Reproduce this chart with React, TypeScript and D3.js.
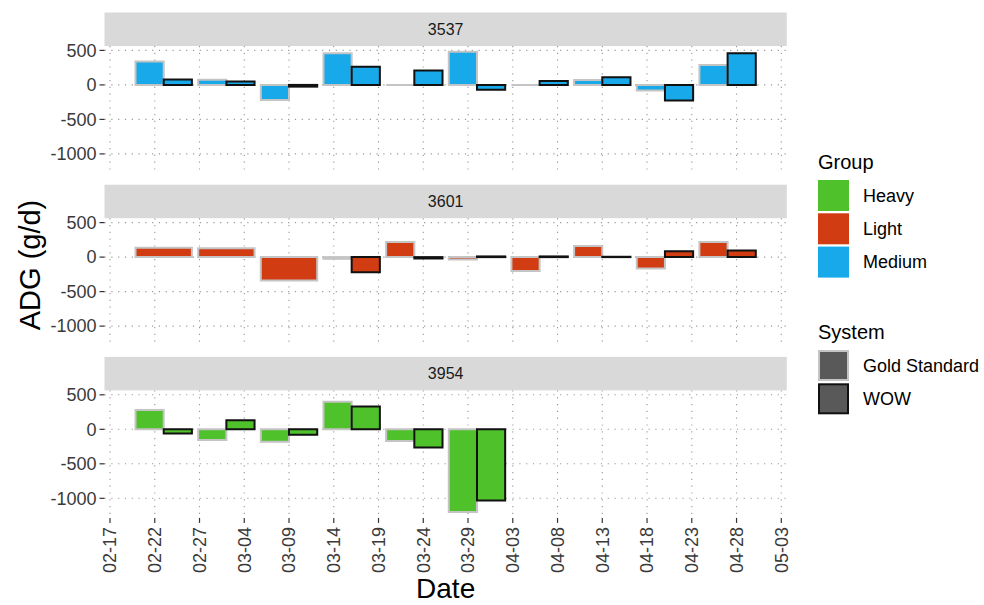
import React, { useEffect, useRef } from "react";
import * as d3 from "d3";

// facets (animal id) and the weight group each belongs to
const animals = ["3537", "3601", "3954"];
const animalGroup = ["Medium", "Light", "Heavy"];

const groups = ["Heavy", "Light", "Medium"];
const groupColors = ["#4fc22b", "#d23c13", "#17a9e9"];

const systems = ["Gold Standard", "WOW"];
const systemStroke = ["#c4c4c4", "#111111"];

// weekly measurement dates
const weekDates = [
  "2019-02-23", "2019-03-02", "2019-03-09", "2019-03-16", "2019-03-23",
  "2019-03-30", "2019-04-06", "2019-04-13", "2019-04-20", "2019-04-27",
];

// ADG (g/d) per animal, Gold Standard vs WOW (null = no record)
const gold3537 = [340, 75, -220, 460, 0, 480, 0, 70, -80, 290];
const wow3537 = [80, 50, -25, 265, 210, -70, 55, 110, -225, 460];
const gold3601 = [135, 130, -340, -25, 220, -35, -200, 160, -165, 220];
const wow3601 = [null, null, null, -220, -20, 10, 10, 5, 85, 95];
const gold3954 = [280, -155, -180, 400, -170, -1200];
const wow3954 = [-60, 130, -80, 330, -265, -1030];

const goldADG = [gold3537, gold3601, gold3954];
const wowADG = [wow3537, wow3601, wow3954];

const xTickDates = [
  "2019-02-17", "2019-02-22", "2019-02-27", "2019-03-04", "2019-03-09",
  "2019-03-14", "2019-03-19", "2019-03-24", "2019-03-29", "2019-04-03",
  "2019-04-08", "2019-04-13", "2019-04-18", "2019-04-23", "2019-04-28",
  "2019-05-03",
];
const yTicks = [500, 0, -500, -1000];

const FONT = "'Liberation Sans', Arial, sans-serif";
const DAY = 864e5;

function App() {
  const ref = useRef<SVGSVGElement>(null);

  useEffect(() => {
    const svg = d3.select(ref.current);
    svg.selectAll("*").remove();

    const left = 104.5;
    const right = 786.8;
    const top0 = 12.5;
    const stripH = 33.5;
    const panelH = 127.5;
    const gap = 11.2;

    const parse = d3.utcParse("%Y-%m-%d");
    const dates = weekDates.map((d) => parse(d)!);
    const halfW = 3.15; // days, 0.9 * 7 / 2

    // x domain = bar extent, expanded 5%
    const lo = dates[0].getTime() - halfW * DAY;
    const hi = dates[dates.length - 1].getTime() + halfW * DAY;
    const pad = (hi - lo) * 0.05;
    const x = d3.scaleUtc().domain([lo - pad, hi + pad]).range([left, right]);

    const allVals = [...goldADG.flat(), ...wowADG.flat()].filter((v) => v != null) as number[];
    const vmin = Math.min(0, d3.min(allVals)!);
    const vmax = Math.max(0, d3.max(allVals)!);
    const vpad = (vmax - vmin) * 0.05;

    const fmt = d3.utcFormat("%m-%d");

    animals.forEach((id, i) => {
      const stripTop = top0 + i * (stripH + panelH + gap);
      const pTop = stripTop + stripH;
      const pBot = pTop + panelH;
      const y = d3.scaleLinear().domain([vmin - vpad, vmax + vpad]).range([pBot, pTop]);
      const g = svg.append("g");

      // strip
      g.append("rect")
        .attr("x", left).attr("y", stripTop)
        .attr("width", right - left).attr("height", stripH)
        .attr("fill", "#d9d9d9");
      g.append("text")
        .attr("x", (left + right) / 2).attr("y", stripTop + stripH / 2)
        .attr("dy", "0.35em")
        .attr("text-anchor", "middle")
        .attr("font-size", 16)
        .attr("fill", "#1a1a1a")
        .text(id);

      // grid
      g.selectAll("line.gy").data(yTicks).join("line")
        .attr("class", "gy")
        .attr("x1", left).attr("x2", right)
        .attr("y1", (d) => y(d)).attr("y2", (d) => y(d))
        .attr("stroke", "#999").attr("stroke-width", 1.1)
        .attr("stroke-dasharray", "1.2,5.6");
      g.selectAll("line.gx").data(xTickDates).join("line")
        .attr("class", "gx")
        .attr("x1", (d) => x(parse(d)!)).attr("x2", (d) => x(parse(d)!))
        .attr("y1", pTop).attr("y2", pBot)
        .attr("stroke", "#999").attr("stroke-width", 1.1)
        .attr("stroke-dasharray", "1.2,5.6");

      // y axis
      g.selectAll("line.ty").data(yTicks).join("line")
        .attr("class", "ty")
        .attr("x1", left - 5).attr("x2", left)
        .attr("y1", (d) => y(d)).attr("y2", (d) => y(d))
        .attr("stroke", "#333").attr("stroke-width", 1.2);
      g.selectAll("text.ly").data(yTicks).join("text")
        .attr("class", "ly")
        .attr("x", left - 8).attr("y", (d) => y(d))
        .attr("dy", "0.35em")
        .attr("text-anchor", "end")
        .attr("font-size", 18)
        .attr("fill", "#3a3a3a")
        .text((d) => d);

      // bars
      const fill = groupColors[groups.indexOf(animalGroup[i])];
      const bars: { x0: number; x1: number; v: number; s: number }[] = [];
      goldADG[i].forEach((v, j) => {
        const w = wowADG[i][j];
        const t = dates[j].getTime();
        if (w == null) {
          bars.push({ x0: t - halfW * DAY, x1: t + halfW * DAY, v: v as number, s: 0 });
        } else {
          bars.push({ x0: t - halfW * DAY, x1: t, v: v as number, s: 0 });
          bars.push({ x0: t, x1: t + halfW * DAY, v: w, s: 1 });
        }
      });
      g.selectAll("path.bar").data(bars.sort((a, b) => a.s - b.s)).join("path")
        .attr("class", "bar")
        .attr("d", (d) => {
          const a = x(new Date(d.x0));
          const b = x(new Date(d.x1));
          const t = Math.min(y(0), y(d.v));
          const bt = Math.max(y(0), y(d.v));
          return `M${a},${t}H${b}V${bt}H${a}Z`;
        })
        .attr("fill", fill)
        .attr("stroke", (d) => systemStroke[d.s])
        .attr("stroke-width", 2);

      // x axis on bottom panel
      if (i === animals.length - 1) {
        g.selectAll("line.tx").data(xTickDates).join("line")
          .attr("class", "tx")
          .attr("x1", (d) => x(parse(d)!)).attr("x2", (d) => x(parse(d)!))
          .attr("y1", pBot).attr("y2", pBot + 5)
          .attr("stroke", "#333").attr("stroke-width", 1.2);
        g.selectAll("text.lx").data(xTickDates).join("text")
          .attr("class", "lx")
          .attr("transform", (d) => `translate(${x(parse(d)!)},${pBot + 9}) rotate(-90)`)
          .attr("dy", "0.35em")
          .attr("text-anchor", "end")
          .attr("font-size", 18)
          .attr("fill", "#3a3a3a")
          .text((d) => fmt(parse(d)!));
      }
    });

    // axis titles
    svg.append("text")
      .attr("x", (left + right) / 2).attr("y", 598)
      .attr("text-anchor", "middle")
      .attr("font-size", 28)
      .text("Date");
    svg.append("text")
      .attr("transform", `translate(40,265) rotate(-90)`)
      .attr("text-anchor", "middle")
      .attr("font-size", 29)
      .text("ADG (g/d)");

    // legends
    const lx = 818;
    const key = 31;
    const step = 33.3;
    const lg = svg.append("g");
    lg.append("text").attr("x", lx).attr("y", 168.5).attr("font-size", 20).text("Group");
    groups.forEach((gname, k) => {
      const ky = 180 + k * step;
      lg.append("rect").attr("x", lx).attr("y", ky).attr("width", key).attr("height", key)
        .attr("fill", groupColors[k]);
      lg.append("text").attr("x", lx + 45).attr("y", ky + key / 2).attr("dy", "0.35em")
        .attr("font-size", 18).text(gname);
    });
    lg.append("text").attr("x", lx).attr("y", 338.5).attr("font-size", 20).text("System");
    systems.forEach((sname, k) => {
      const ky = 350 + k * step;
      lg.append("rect").attr("x", lx + 1).attr("y", ky + 1).attr("width", key - 2).attr("height", key - 2)
        .attr("fill", "#595959")
        .attr("stroke", systemStroke[k]).attr("stroke-width", 2);
      lg.append("text").attr("x", lx + 45).attr("y", ky + key / 2).attr("dy", "0.35em")
        .attr("font-size", 18).text(sname);
    });
  }, []);

  return (
    <div style={{ position: "absolute", left: 0, top: 0 }}>
      <svg ref={ref} width={984} height={605} style={{ display: "block", fontFamily: FONT, background: "#fff" }} />
    </div>
  );
}

export default App;
